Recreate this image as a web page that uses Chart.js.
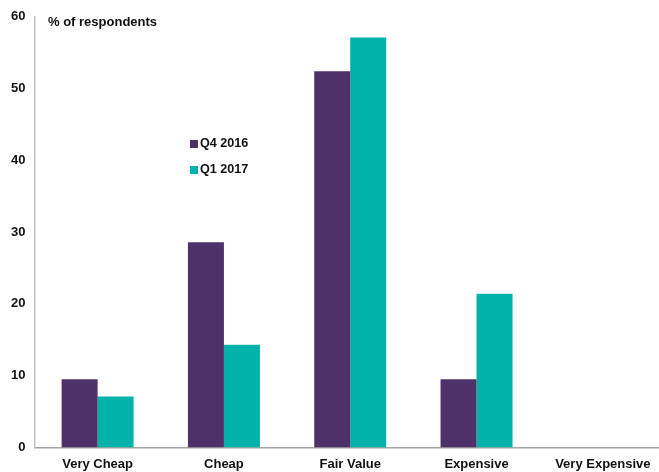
<!DOCTYPE html>
<html>
<head>
<meta charset="utf-8">
<script src="https://cdn.jsdelivr.net/npm/chart.js@4/dist/chart.umd.min.js"></script>
<style>
  html, body { margin: 0; padding: 0; background: #fff; overflow: hidden; }
  #wrap { position: relative; width: 659px; height: 472px; overflow: hidden; }
  #axisTitle {
    position: absolute; left: 48px; top: 14px;
    font: bold 13px "Liberation Sans", Arial, sans-serif; color: #111;
  }
  #legend {
    position: absolute; left: 190px; top: 136px;
    font: bold 12.6px "Liberation Sans", Arial, sans-serif; color: #111;
  }
  #legend div { height: 26px; display: flex; align-items: flex-start; }
  #legend span.box { width: 8px; height: 8px; margin: 4px 2px 0 0; display: inline-block; }
</style>
</head>
<body>
<div id="wrap">
  <canvas id="chart" width="666" height="481"></canvas>
  <div id="axisTitle">% of respondents</div>
  <div id="legend"></div>
</div>
<script>
const categories = ['Very Cheap', 'Cheap', 'Fair Value', 'Expensive', 'Very Expensive'];
const seriesNames = ['Q4 2016', 'Q1 2017'];
const q4_2016 = [9.5, 28.6, 52.4, 9.5, 0];
const q1_2017 = [7.1, 14.3, 57.1, 21.4, 0];
const colors = ['#4e3169', '#00b2a9'];

const font = { family: '"Liberation Sans", Arial, sans-serif', size: 13, weight: 'bold' };

const chart = new Chart(document.getElementById('chart'), {
  type: 'bar',
  data: {
    labels: categories,
    datasets: [
      { label: seriesNames[0], data: q4_2016, backgroundColor: colors[0] },
      { label: seriesNames[1], data: q1_2017, backgroundColor: colors[1] }
    ]
  },
  options: {
    responsive: false,
    animation: false,
    layout: { padding: { top: 8, left: 2, right: 0, bottom: 0 } },
    plugins: {
      legend: { display: false },
      tooltip: { enabled: false }
    },
    datasets: {
      bar: { categoryPercentage: 0.57, barPercentage: 1.0 }
    },
    scales: {
      x: {
        grid: { display: false, drawTicks: false },
        border: { color: '#a6a6a6', width: 1.5 },
        ticks: { color: '#111', font: font, padding: 9, maxRotation: 0 }
      },
      y: {
        min: 0,
        max: 60,
        grid: { display: false, drawTicks: false },
        border: { color: '#bfbfbf', width: 1.5 },
        ticks: { stepSize: 10, color: '#111', font: font, padding: 9 }
      }
    }
  }
});

// Legend drawn as text next to small colour squares
const legend = document.getElementById('legend');
chart.data.datasets.forEach(ds => {
  const row = document.createElement('div');
  row.innerHTML = `<span class="box" style="background:${ds.backgroundColor}"></span>${ds.label}`;
  legend.appendChild(row);
});
</script>
</body>
</html>
